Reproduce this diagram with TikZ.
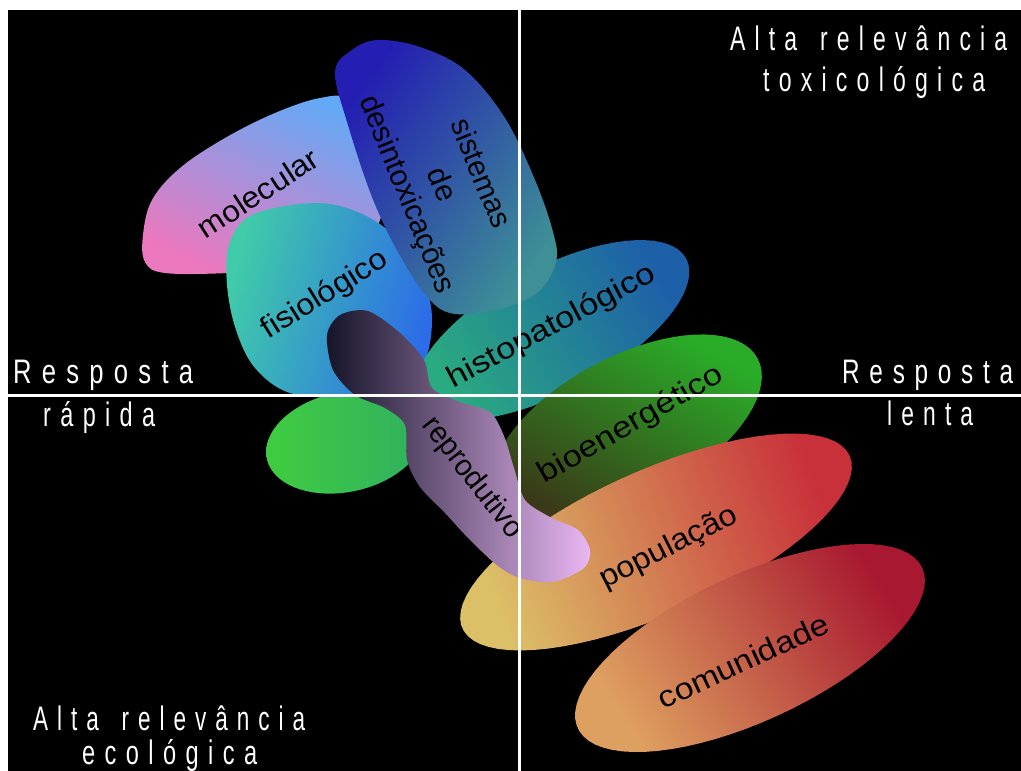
\documentclass[tikz,border=0pt]{standalone}
\usepackage{fontspec}
\setmainfont{Liberation Sans}
\usepackage{graphicx}
\makeatletter
\newcommand\lsp[1]{\def\lsp@sep{}\@tfor\lsp@c:=#1\do{\lsp@sep\lsp@c\def\lsp@sep{\hskip0.4em\relax}}}
\makeatother
\newcommand\wsp{\hskip1.0em\relax}
\definecolor{molTop}{RGB}{98,170,246}
\definecolor{molBot}{RGB}{236,120,190}
\definecolor{desTop}{RGB}{36,30,178}
\definecolor{desBot}{RGB}{62,144,150}
\definecolor{fisTop}{RGB}{64,204,168}
\definecolor{fisBot}{RGB}{44,108,232}
\definecolor{hisTop}{RGB}{42,170,128}
\definecolor{hisBot}{RGB}{30,96,168}
\definecolor{bioTop}{RGB}{42,172,40}
\definecolor{bioBot}{RGB}{58,58,24}
\definecolor{grnL}{RGB}{64,204,64}
\definecolor{grnR}{RGB}{48,176,96}
\definecolor{popTop}{RGB}{220,192,104}
\definecolor{popBot}{RGB}{200,48,58}
\definecolor{comTop}{RGB}{168,24,48}
\definecolor{comBot}{RGB}{222,160,96}
\definecolor{repL}{RGB}{20,20,40}
\definecolor{repR}{RGB}{234,184,244}
\tikzset{
  axlabel/.style={text=white, font=\fontsize{34}{40}\selectfont, inner sep=0pt, anchor=base west},
  blabel/.style={text=black, font=\fontsize{30}{36}\selectfont, inner sep=0pt},
  axisline/.style={draw=white, line width=3pt},
}
\begin{document}
\begin{tikzpicture}[x=1pt,y=-1pt]
\useasboundingbox (0,0) rectangle (1021,771);
\fill[white] (0,0) rectangle (1021,771);
\fill[black] (8,10) rectangle (1021,771);

% molecular
\shade[top color=molTop, bottom color=molBot, shading angle=-25]
  plot[smooth cycle, tension=0.6] coordinates {(143,235) (152,200) (180,168) (225,138) (275,113) (320,98) (350,100) (375,140) (385,200) (360,250) (300,268) (230,273) (165,273) (145,262)};
% green unlabeled blob
\shade[left color=grnL, right color=grnR]
  plot[domain=0:360, samples=72, variable=\t] ({345+80*cos(\t)*cos(12)+50*sin(\t)*sin(12)},{442-80*cos(\t)*sin(12)+50*sin(\t)*cos(12)}) -- cycle;
% fisiologico
\shade[top color=fisTop, bottom color=fisBot, shading angle=75]
  plot[smooth cycle, tension=0.6] coordinates {(229,245) (247,218) (285,206) (330,204) (372,219) (405,247) (424,282) (432,318) (425,360) (400,388) (345,397) (290,393) (255,368) (236,330) (227,285)};
% histopatologico
\shade[top color=hisTop, bottom color=hisBot, shading angle=120]
  plot[domain=0:360, samples=72, variable=\t] ({552+152*cos(\t)*cos(28)+62*sin(\t)*sin(28)},{330-152*cos(\t)*sin(28)+62*sin(\t)*cos(28)}) -- cycle;
% sistemas de desintoxicacoes
\shade[top color=desTop, bottom color=desBot, shading angle=55]
  plot[smooth cycle, tension=0.6] coordinates {(335,72) (352,50) (378,40) (420,47) (465,70) (505,118) (535,180) (553,232) (556,262) (538,292) (500,309) (455,314) (428,298) (398,252) (372,197) (348,125)};
% bioenergetico
\shade[top color=bioTop, bottom color=bioBot, shading angle=-30]
  plot[domain=0:360, samples=72, variable=\t] ({627+148*cos(\t)*cos(28)+71*sin(\t)*sin(28)},{428-148*cos(\t)*sin(28)+71*sin(\t)*cos(28)}) -- cycle;
% populacao
\shade[top color=popTop, bottom color=popBot, shading angle=110]
  plot[domain=0:360, samples=72, variable=\t] ({656+212*cos(\t)*cos(24)+72*sin(\t)*sin(24)},{542-212*cos(\t)*sin(24)+72*sin(\t)*cos(24)}) -- cycle;
% comunidade
\shade[top color=comTop, bottom color=comBot, shading angle=-57]
  plot[domain=0:360, samples=72, variable=\t] ({750+190*cos(\t)*cos(25)+73*sin(\t)*sin(25)},{648-190*cos(\t)*sin(25)+73*sin(\t)*cos(25)}) -- cycle;
% reprodutivo
\shade[left color=repL, right color=repR]
  plot[smooth cycle, tension=0.5] coordinates {(327,335) (340,315) (368,311) (400,333) (424,360) (432,388) (460,402) (490,412) (504,436) (514,468) (525,500) (550,517) (578,530) (590,550) (584,568) (553,582) (520,578) (498,566) (470,540) (445,513) (420,487) (407,460) (405,425) (385,408) (355,395) (333,370)};

% labels
\node[blabel, rotate=33] (lmol) at (258,193) {\resizebox{138pt}{\height}{molecular}};
\node[blabel, rotate=32] (lfis) at (325,295) {\resizebox{142pt}{\height}{fisiológico}};
\node[blabel, rotate=-68] (lsis) at (482,173) {\resizebox{115pt}{\height}{sistemas}};
\node[blabel, rotate=-68] (lde) at (443,184) {de};
\node[blabel, rotate=-68] (ldes) at (406,195) {\resizebox{211pt}{\height}{desintoxicações}};
\node[blabel, rotate=28] (lhis) at (552,327) {\resizebox{231pt}{\height}{histopatológico}};
\node[blabel, rotate=30] (lbio) at (631,425) {\resizebox{208pt}{\height}{bioenergético}};
\node[blabel, rotate=-52] (lrep) at (472,478) {\resizebox{145pt}{\height}{reprodutivo}};
\node[blabel, rotate=27] (lpop) at (669,548) {\resizebox{150pt}{\height}{população}};
\node[blabel, rotate=25] (lcom) at (743,661) {\resizebox{185pt}{\height}{comunidade}};

% axes
\coordinate (vt) at (519,10);
\coordinate (vb) at (519,771);
\coordinate (hl) at (8,395);
\coordinate (hr) at (1021,395);
\draw[axisline] (vt) -- (vb);
\draw[axisline] (hl) -- (hr);

% quadrant texts
\node[axlabel] (tr1) at (730,50) {\resizebox{277pt}{\height}{\lsp{Alta}\wsp\lsp{relevância}}};
\node[axlabel] (tr2) at (763,91) {\resizebox{222pt}{\height}{\lsp{toxicológica}}};
\node[axlabel] (l1) at (13,383) {\resizebox{180pt}{\height}{\lsp{Resposta}}};
\node[axlabel] (l2) at (43,426) {\resizebox{112pt}{\height}{\lsp{rápida}}};
\node[axlabel] (r1) at (842,383) {\resizebox{171pt}{\height}{\lsp{Resposta}}};
\node[axlabel] (r2) at (887,425) {\resizebox{86pt}{\height}{\lsp{lenta}}};
\node[axlabel] (bl1) at (33,730) {\resizebox{272pt}{\height}{\lsp{Alta}\wsp\lsp{relevância}}};
\node[axlabel] (bl2) at (82,764) {\resizebox{175pt}{\height}{\lsp{ecológica}}};
\end{tikzpicture}
\end{document}
